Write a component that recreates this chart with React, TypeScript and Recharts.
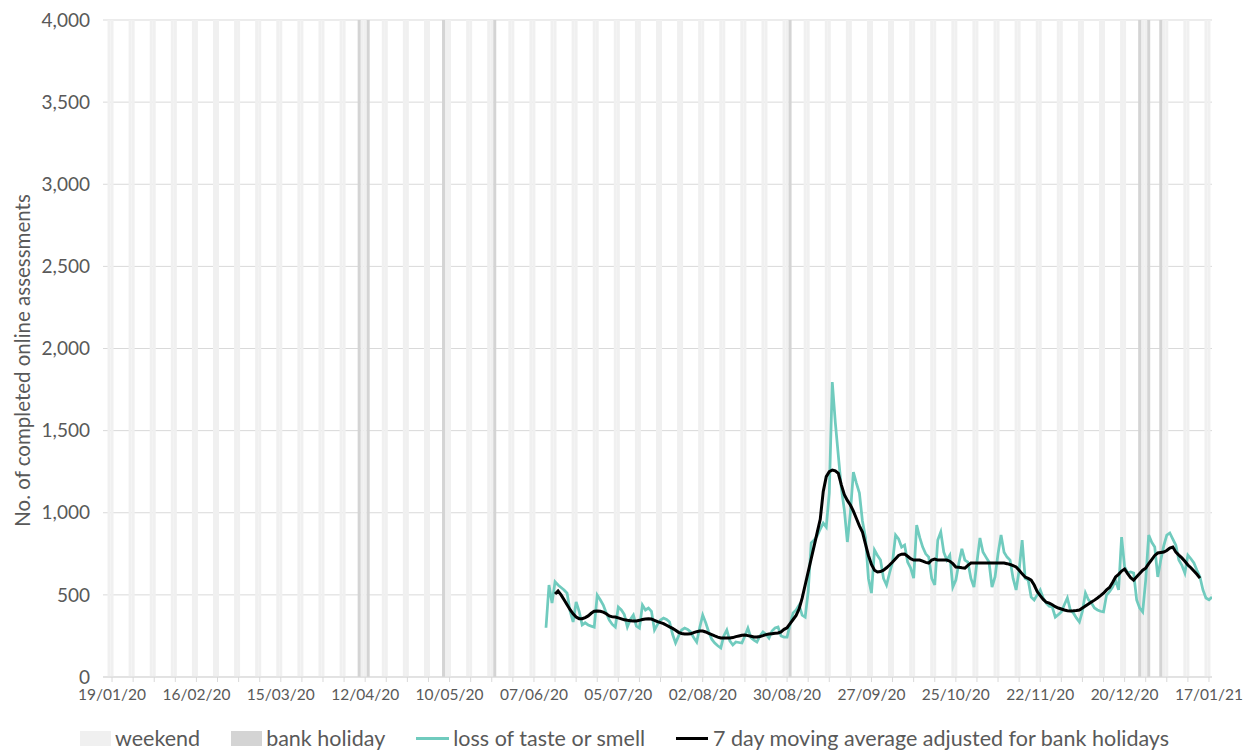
import React from "react";
import { ComposedChart, Bar, Line, XAxis, YAxis, CartesianGrid, Legend } from "recharts";

// day 0 = 19/01/20 (first labelled tick); axis runs 16/01/20 .. 18/01/21
const DAY_MS = 86400000;
const DAY0 = Date.UTC(2020, 0, 19);
const AXIS_FROM = -3;
const AXIS_TO = 365;

const tickLabels = [
  "19/01/20", "16/02/20", "15/03/20", "12/04/20", "10/05/20", "07/06/20", "05/07/20",
  "02/08/20", "30/08/20", "27/09/20", "25/10/20", "22/11/20", "20/12/20", "17/01/21",
];

const yTicks = [0, 500, 1000, 1500, 2000, 2500, 3000, 3500, 4000];

const bankHolidays = [
  "2020-04-10", "2020-04-13", "2020-05-08", "2020-05-25",
  "2020-08-31", "2020-12-25", "2020-12-28", "2021-01-01",
];

// daily "loss of taste or smell" assessments, from 11/06/20
const tasteStart = "2020-06-11";
const tasteSmell = [
  300, 560, 450, 580, 560, 545, 530,
  510, 400, 335, 457, 400, 317, 330,
  317, 310, 304, 499, 470, 438, 390,
  347, 320, 304, 426, 408, 380, 304,
  350, 377, 310, 298, 438, 408, 420,
  400, 286, 320, 347, 359, 350, 335,
  260, 207, 250, 286, 298, 290, 274,
  240, 213, 300, 377, 330, 274, 230,
  207, 190, 177, 250, 286, 220, 195,
  213, 210, 207, 250, 298, 240, 225,
  213, 250, 274, 260, 237, 280, 298,
  304, 250, 243, 243, 320, 390, 408,
  438, 377, 365, 520, 816, 834, 860,
  900, 937, 913, 1120, 1796, 1550, 1350,
  1150, 1017, 822, 1000, 1248, 1181, 1120,
  950, 852, 600, 511, 773, 740, 712,
  600, 560, 633, 700, 864, 840, 791,
  803, 700, 663, 602, 925, 850, 791,
  750, 730, 600, 560, 834, 883, 760,
  712, 742, 548, 590, 694, 780, 712,
  700, 600, 548, 700, 846, 761, 730,
  700, 548, 609, 750, 864, 760, 730,
  712, 600, 530, 650, 834, 600, 590,
  487, 469, 500, 530, 480, 450, 430,
  426, 365, 380, 396, 440, 481, 408,
  390, 360, 335, 400, 511, 470, 450,
  420, 408, 400, 396, 499, 520, 548,
  590, 530, 852, 670, 633, 640, 633,
  469, 420, 396, 590, 864, 820, 791,
  609, 712, 800, 864, 877, 840, 803,
  712, 680, 633, 742, 720, 694, 650,
  609, 530, 481, 470, 487,
];

// 7 day moving average adjusted for bank holidays, from 14/06/20
const avgStart = "2020-06-14";
const movingAvg = [
  505, 524, 500, 470, 440, 410, 385,
  365, 355, 355, 362, 372, 388, 400,
  402, 400, 395, 385, 372, 366, 365,
  360, 354, 348, 345, 343, 341, 341,
  345, 350, 353, 354, 353, 345, 337,
  331, 325, 315, 305, 296, 285, 272,
  265, 262, 262, 263, 270, 276, 280,
  280, 274, 266, 258, 250, 243, 238,
  237, 237, 237, 240, 246, 250, 254,
  256, 252, 248, 244, 243, 247, 252,
  258, 262, 264, 266, 268, 275, 290,
  300, 325, 350, 375, 415, 480, 560,
  640, 720, 800, 880, 960, 1130, 1220,
  1250, 1260, 1255, 1240, 1170, 1110, 1075,
  1047, 1010, 965, 920, 883, 810, 740,
  685, 650, 639, 642, 650, 665, 682,
  700, 720, 740, 748, 749, 735, 720,
  712, 712, 712, 705, 698, 694, 712,
  718, 712, 712, 712, 712, 705, 690,
  670, 668, 665, 663, 680, 694, 694,
  694, 694, 694, 694, 694, 694, 694,
  694, 694, 694, 690, 685, 678, 670,
  650, 628, 609, 600, 590, 560, 520,
  495, 472, 455, 450, 440, 428, 420,
  414, 408, 403, 402, 403, 405, 408,
  420, 432, 444, 456, 468, 481, 495,
  510, 530, 545, 575, 609, 625, 645,
  657, 630, 605, 590, 610, 630, 650,
  663, 690, 715, 740, 755, 758, 761,
  770, 785, 791, 760, 742, 725, 705,
  682, 665, 645, 625, 602,
];

const TEXT = "#595959";
const GRID = "#d9d9d9";
const WEEKEND = "#f0f0f0";
const HOLIDAY = "#d4d4d4";
const TEAL = "#70cbbe";
const FONT = "Lato, 'DejaVu Sans', sans-serif";

const dayOf = (iso: string) => Math.round((Date.parse(iso) - DAY0) / DAY_MS);
const isoOf = (d: number) => new Date(DAY0 + d * DAY_MS).toISOString().slice(0, 10);

const tasteFrom = dayOf(tasteStart);
const avgFrom = dayOf(avgStart);

const data: any[] = [];
for (let d = AXIS_FROM; d <= AXIS_TO; d++) {
  const wd = new Date(DAY0 + d * DAY_MS).getUTCDay();
  const t = tasteSmell[d - tasteFrom];
  const a = movingAvg[d - avgFrom];
  data.push({
    d,
    weekend: wd === 0 || wd === 6 ? 4000 : null,
    holiday: bankHolidays.includes(isoOf(d)) ? 4000 : null,
    taste: t === undefined ? null : t,
    avg: a === undefined ? null : a,
  });
}

const weekTicks: number[] = [];
for (let d = 0; d <= 364; d += 7) weekTicks.push(d);
const labelByDay = new Map(tickLabels.map((l, i) => [i * 28, l]));

const renderLegend = () => (
  <div
    style={{
      display: "flex",
      alignItems: "center",
      height: 46,
      paddingTop: 16,
      paddingLeft: 72,
      boxSizing: "border-box",
      fontSize: 21.5,
      color: TEXT,
      whiteSpace: "nowrap",
      lineHeight: "28px",
    }}
  >
    <span style={{ width: 31, height: 15, background: WEEKEND, marginRight: 4 }} />
    <span style={{ marginRight: 31 }}>weekend</span>
    <span style={{ width: 31, height: 15, background: HOLIDAY, marginRight: 4 }} />
    <span style={{ marginRight: 31 }}>bank holiday</span>
    <span style={{ width: 33, height: 3, background: TEAL, marginRight: 4 }} />
    <span style={{ marginRight: 31 }}>loss of taste or smell</span>
    <span style={{ width: 32, height: 3, background: "#000", marginRight: 5 }} />
    <span>7 day moving average adjusted for bank holidays</span>
  </div>
);

const YLabel = ({ viewBox }: any) => {
  const cx = viewBox.x + 14;
  const cy = viewBox.y + viewBox.height / 2 + 12;
  return (
    <text
      x={cx}
      y={cy}
      transform={`rotate(-90 ${cx} ${cy})`}
      textAnchor="middle"
      dominantBaseline="central"
      fill={TEXT}
      fontSize={20.5}
    >
      No. of completed online assessments
    </text>
  );
};

export default function App() {
  return (
    <div style={{ width: 1245, height: 745, fontFamily: FONT }}>
      <ComposedChart
        width={1245}
        height={745}
        data={data}
        margin={{ top: 12, right: 41, left: 0, bottom: 0 }}
        barCategoryGap={0}
        barGap={0}
      >
        <CartesianGrid vertical={false} stroke={GRID} />
        <XAxis
          dataKey="d"
          type="number"
          domain={[AXIS_FROM, AXIS_TO]}
          ticks={weekTicks}
          interval={0}
          allowDataOverflow
          tickFormatter={(v: number) => labelByDay.get(v) ?? ""}
          tickSize={5}
          tickMargin={7}
          axisLine={{ stroke: GRID }}
          tickLine={{ stroke: GRID }}
          tick={{ fill: TEXT, fontSize: 15.5 }}
          height={30}
        />
        <YAxis
          type="number"
          domain={[0, 4000]}
          ticks={yTicks}
          width={95}
          axisLine={false}
          tickLine={false}
          tickSize={0}
          tickMargin={13}
          tick={{ fill: TEXT, fontSize: 19 }}
          tickFormatter={(v: number) => v.toLocaleString("en-GB")}
          label={YLabel}
        />
        <Legend verticalAlign="bottom" align="left" height={46} content={renderLegend} />
        <Bar dataKey="weekend" stackId="bg" fill={WEEKEND} isAnimationActive={false} legendType="rect" />
        <Bar dataKey="holiday" stackId="bg" fill={HOLIDAY} isAnimationActive={false} legendType="rect" />
        <Line
          type="linear"
          dataKey="taste"
          stroke={TEAL}
          strokeWidth={2.75}
          dot={false}
          isAnimationActive={false}
        />
        <Line
          type="linear"
          dataKey="avg"
          stroke="#000"
          strokeWidth={3}
          dot={false}
          isAnimationActive={false}
        />
      </ComposedChart>
    </div>
  );
}
